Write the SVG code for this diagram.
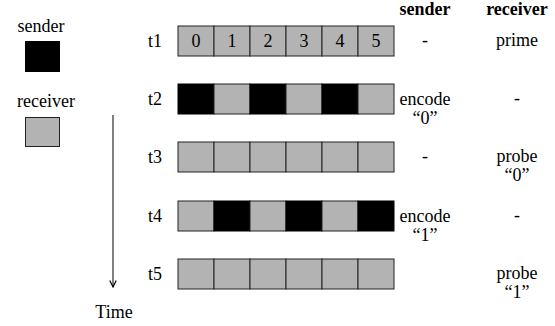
<svg xmlns="http://www.w3.org/2000/svg" width="555" height="326" viewBox="0 0 555 326">
<style>
.g{fill:#b3b3b3;stroke:#222;stroke-width:1}
.k{fill:#000;stroke:#000;stroke-width:1}
</style>
<defs>
<marker id="ah" viewBox="0 0 10 10" refX="9" refY="5" markerWidth="8" markerHeight="8" orient="auto" markerUnits="userSpaceOnUse">
<path d="M1,1 L9,5 L1,9" fill="none" stroke="#000" stroke-width="1.5"/>
</marker>
</defs>
<g text-anchor="middle" fill="#000" font-family="'Liberation Serif', serif" font-size="18">
<g id="legend">
<text x="41" y="32" style="font-family:'Liberation Serif',serif;font-size:18px">sender</text>
<rect x="25.5" y="41.5" width="34" height="30" class="k"/>
<text x="46" y="107" style="font-family:'Liberation Serif',serif;font-size:18px">receiver</text>
<rect x="25.5" y="117.5" width="34" height="29" class="g"/>
</g>
<g id="headers">
<text x="425" y="15" style="font-family:'Liberation Serif',serif;font-size:18px;font-weight:bold">sender</text>
<text x="517" y="15" style="font-family:'Liberation Serif',serif;font-size:18px;font-weight:bold">receiver</text>
</g>
<g id="connectors">
<line x1="113" y1="115" x2="113" y2="287" stroke="#000" stroke-width="1" marker-end="url(#ah)"/>
<text x="114" y="318" style="font-family:'Liberation Serif',serif;font-size:18px">Time</text>
</g>
<g id="row-t1">
<text x="155" y="47" style="font-family:'Liberation Serif',serif;font-size:18px">t1</text>
<rect x="178" y="26" width="36" height="30" class="g"/>
<rect x="214" y="26" width="36" height="30" class="g"/>
<rect x="250" y="26" width="36" height="30" class="g"/>
<rect x="286" y="26" width="36" height="30" class="g"/>
<rect x="322" y="26" width="36" height="30" class="g"/>
<rect x="358" y="26" width="36" height="30" class="g"/>
<text x="196" y="47" style="font-family:'Liberation Serif',serif;font-size:18px">0</text>
<text x="232" y="47" style="font-family:'Liberation Serif',serif;font-size:18px">1</text>
<text x="268" y="47" style="font-family:'Liberation Serif',serif;font-size:18px">2</text>
<text x="304" y="47" style="font-family:'Liberation Serif',serif;font-size:18px">3</text>
<text x="340" y="47" style="font-family:'Liberation Serif',serif;font-size:18px">4</text>
<text x="376" y="47" style="font-family:'Liberation Serif',serif;font-size:18px">5</text>
<text x="425" y="46" style="font-family:'Liberation Serif',serif;font-size:18px">-</text>
<text x="517" y="46" style="font-family:'Liberation Serif',serif;font-size:18px">prime</text>
</g>
<g id="row-t2">
<text x="155" y="105" style="font-family:'Liberation Serif',serif;font-size:18px">t2</text>
<rect x="178" y="84" width="36" height="30" class="k"/>
<rect x="214" y="84" width="36" height="30" class="g"/>
<rect x="250" y="84" width="36" height="30" class="k"/>
<rect x="286" y="84" width="36" height="30" class="g"/>
<rect x="322" y="84" width="36" height="30" class="k"/>
<rect x="358" y="84" width="36" height="30" class="g"/>
<text x="425" y="105" style="font-family:'Liberation Serif',serif;font-size:18px">encode</text>
<text x="425" y="124" style="font-family:'Liberation Serif',serif;font-size:18px">“0”</text>
<text x="517" y="104" style="font-family:'Liberation Serif',serif;font-size:18px">-</text>
</g>
<g id="row-t3">
<text x="155" y="163" style="font-family:'Liberation Serif',serif;font-size:18px">t3</text>
<rect x="178" y="142" width="36" height="30" class="g"/>
<rect x="214" y="142" width="36" height="30" class="g"/>
<rect x="250" y="142" width="36" height="30" class="g"/>
<rect x="286" y="142" width="36" height="30" class="g"/>
<rect x="322" y="142" width="36" height="30" class="g"/>
<rect x="358" y="142" width="36" height="30" class="g"/>
<text x="425" y="162" style="font-family:'Liberation Serif',serif;font-size:18px">-</text>
<text x="517" y="162" style="font-family:'Liberation Serif',serif;font-size:18px">probe</text>
<text x="517" y="181" style="font-family:'Liberation Serif',serif;font-size:18px">“0”</text>
</g>
<g id="row-t4">
<text x="155" y="222" style="font-family:'Liberation Serif',serif;font-size:18px">t4</text>
<rect x="178" y="201" width="36" height="30" class="g"/>
<rect x="214" y="201" width="36" height="30" class="k"/>
<rect x="250" y="201" width="36" height="30" class="g"/>
<rect x="286" y="201" width="36" height="30" class="k"/>
<rect x="322" y="201" width="36" height="30" class="g"/>
<rect x="358" y="201" width="36" height="30" class="k"/>
<text x="425" y="222" style="font-family:'Liberation Serif',serif;font-size:18px">encode</text>
<text x="425" y="241" style="font-family:'Liberation Serif',serif;font-size:18px">“1”</text>
<text x="517" y="221" style="font-family:'Liberation Serif',serif;font-size:18px">-</text>
</g>
<g id="row-t5">
<text x="155" y="280" style="font-family:'Liberation Serif',serif;font-size:18px">t5</text>
<rect x="178" y="259" width="36" height="30" class="g"/>
<rect x="214" y="259" width="36" height="30" class="g"/>
<rect x="250" y="259" width="36" height="30" class="g"/>
<rect x="286" y="259" width="36" height="30" class="g"/>
<rect x="322" y="259" width="36" height="30" class="g"/>
<rect x="358" y="259" width="36" height="30" class="g"/>
<text x="517" y="279" style="font-family:'Liberation Serif',serif;font-size:18px">probe</text>
<text x="517" y="298" style="font-family:'Liberation Serif',serif;font-size:18px">“1”</text>
</g>
</g>
</svg>
